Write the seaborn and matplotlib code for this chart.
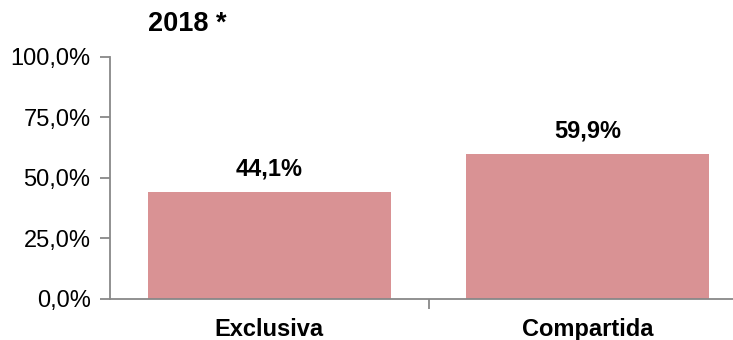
import pandas as pd
import matplotlib
matplotlib.use("Agg")
import matplotlib.pyplot as plt
import seaborn as sns

# data
categorias = ["Exclusiva", "Compartida"]
valores = [44.1, 59.9]
etiquetas = ["44,1%", "59,9%"]
yticks = [0, 25, 50, 75, 100]
ytick_labels = ["0,0%", "25,0%", "50,0%", "75,0%", "100,0%"]
titulo = "2018 *"

df = pd.DataFrame({"tipo": categorias, "valor": valores})

sns.set_style("white")
plt.rcParams["font.family"] = ["Liberation Sans", "DejaVu Sans"]
plt.rcParams["text.color"] = "black"
plt.rcParams["xtick.color"] = "black"
plt.rcParams["ytick.color"] = "black"

fig = plt.figure(figsize=(7.33, 3.4), dpi=100)
ax = fig.add_axes([110 / 733, 1 - 298.5 / 340, 637 / 733, 241.5 / 340])

sns.barplot(data=df, x="tipo", y="valor", color="#D99294", width=0.763,
            saturation=1, linewidth=0, ax=ax)

ax.set_xlim(-0.5, 1.5)
ax.set_ylim(0, 100)
ax.set_xlabel("")
ax.set_ylabel("")

# y axis
ax.set_yticks(yticks)
ax.set_yticklabels(ytick_labels, fontsize=17)
ax.tick_params(axis="y", length=7, width=1.3, color="#888888", labelcolor="black",
               pad=7, direction="out", left=True)

# x axis: labels without ticks, separator ticks as minor
ax.set_xticks([0, 1])
ax.set_xticklabels(categorias, fontsize=17, fontweight="bold")
ax.tick_params(axis="x", which="major", length=0, pad=14, labelcolor="black")
ax.set_xticks([0.5], minor=True)
ax.tick_params(axis="x", which="minor", length=7, width=1.3, color="#888888", direction="out", bottom=True)

for s in ["top", "right"]:
    ax.spines[s].set_visible(False)
for s in ["left", "bottom"]:
    ax.spines[s].set_color("#888888")
    ax.spines[s].set_linewidth(1.3)

# value labels
for i, v in enumerate(valores):
    ax.annotate(etiquetas[i], (i, v), xytext=(0, 8), textcoords="offset points",
                ha="center", va="bottom", fontsize=17, fontweight="bold", color="black")

fig.text(148 / 733, 1 - 24 / 340, titulo, fontsize=19.5, fontweight="bold", va="center",
         ha="left", color="black")

fig.savefig("out.png", dpi=100)
